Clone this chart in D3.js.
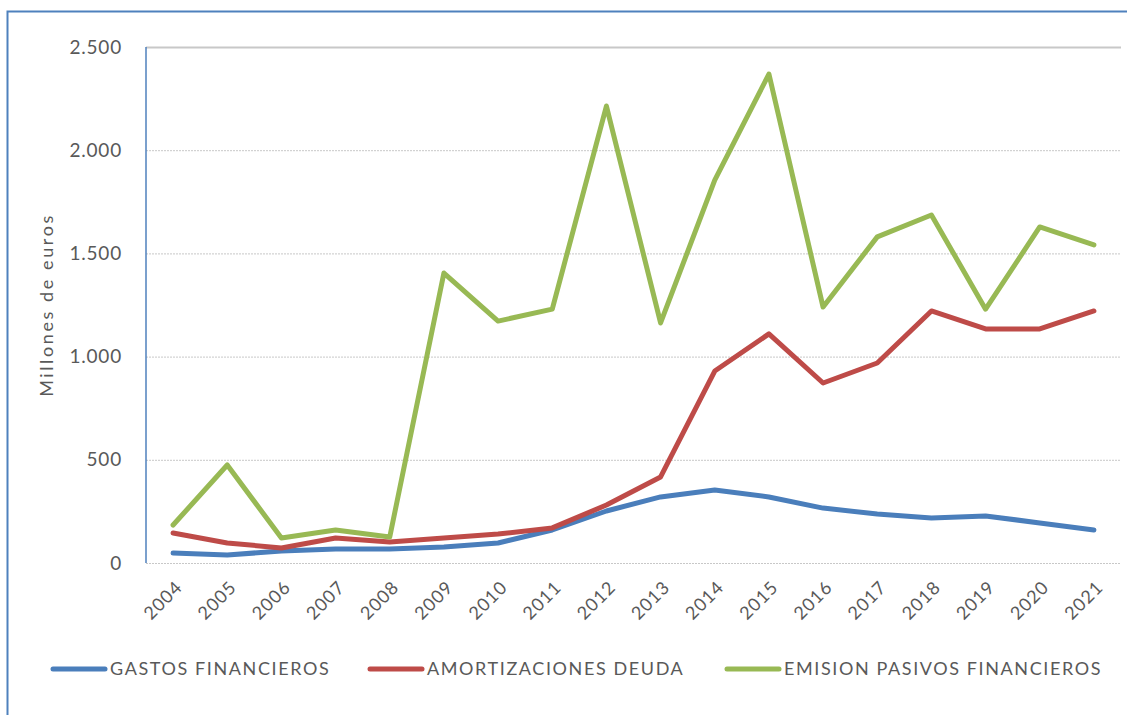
<!DOCTYPE html>
<html>
<head>
<meta charset="utf-8">
<script src="https://cdn.jsdelivr.net/npm/d3@7"></script>
<style>
  body { margin: 0; background: #fff; }
  svg { display: block; }
  text { font-family: Lato, "Open Sans", sans-serif; fill: #595959; }
</style>
</head>
<body>
<svg id="chart"></svg>
<script>
const years = ["2004", "2005", "2006", "2007", "2008", "2009", "2010", "2011", "2012",
    "2013", "2014", "2015", "2016", "2017", "2018", "2019", "2020", "2021"];
const gastos = [48, 39, 58, 68, 68, 78, 97, 160, 252, 320, 354, 320, 266, 237, 218, 228, 194, 160];
const amortizaciones = [145, 97, 73, 121, 102, 121, 140, 170, 281, 417, 930, 1110, 872, 969, 1221, 1134, 1134, 1221];
const emision = [184, 475, 121, 160, 126, 1405, 1172, 1230, 2214, 1163, 1855, 2369, 1240, 1580, 1686, 1230, 1628, 1541];
const yTicks = [0, 500, 1000, 1500, 2000, 2500];

const series = [
    {name: "GASTOS FINANCIEROS", values: gastos, color: "#4a7ebb"},
    {name: "AMORTIZACIONES DEUDA", values: amortizaciones, color: "#be4b48"},
    {name: "EMISION PASIVOS FINANCIEROS", values: emision, color: "#98b954"}
];

const width = 1127, height = 715;
const svg = d3.select("#chart").attr("width", width).attr("height", height);

// chart frame (only top and left edges are visible in the picture)
svg.append("rect")
    .attr("x", 7.5).attr("y", 11.5)
    .attr("width", 1200).attr("height", 800)
    .attr("fill", "none")
    .attr("stroke", "#4f81bd")
    .attr("stroke-width", 2);

const plot = {left: 146, right: 1121, top: 47, bottom: 563};

const x = d3.scalePoint().domain(years).range([plot.left, plot.right]).padding(0.5);
const y = d3.scaleLinear().domain([0, 2500]).range([plot.bottom, plot.top]);

// gridlines
svg.append("g")
    .selectAll("line")
    .data(yTicks).enter()
    .append("line")
    .attr("x1", plot.left).attr("x2", plot.right)
    .attr("y1", d => y(d) + 0.5).attr("y2", d => y(d) + 0.5)
    .attr("stroke", "#c8c8c8")
    .attr("stroke-dasharray", d => d === 2500 ? null : "2,1")
    .attr("stroke-width", d => d === 2500 ? 2 : 1);

// y axis line
svg.append("line")
    .attr("x1", plot.left).attr("x2", plot.left)
    .attr("y1", plot.top).attr("y2", plot.bottom)
    .attr("stroke", "#4f81bd")
    .attr("stroke-width", 1.5);

// y tick labels
const fmt = d3.formatLocale({decimal: ",", thousands: ".", grouping: [3], currency: ["", "€"]}).format(",");
svg.append("g")
    .selectAll("text")
    .data(yTicks).enter()
    .append("text")
    .attr("x", 122)
    .attr("y", d => y(d))
    .attr("dy", "0.35em")
    .attr("text-anchor", "end")
    .attr("font-size", "19px")
    .attr("letter-spacing", "0.8px")
    .text(d => fmt(d));

// y title
svg.append("text")
    .attr("transform", "translate(53,305) rotate(-90)")
    .attr("text-anchor", "middle")
    .attr("font-size", "18px")
    .attr("letter-spacing", "2.6px")
    .text("Millones de euros");

// x labels
svg.append("g")
    .selectAll("text")
    .data(years).enter()
    .append("text")
    .attr("transform", d => `translate(${x(d) + 6},${plot.bottom + 21}) rotate(-45)`)
    .attr("text-anchor", "end")
    .attr("dy", "0.35em")
    .attr("font-size", "18px")
    .attr("letter-spacing", "1px")
    .text(d => d);

// lines
const line = d3.line()
    .x((d, i) => x(years[i]))
    .y(d => y(d));
series.forEach(s => {
    svg.append("path")
        .datum(s.values)
        .attr("d", line)
        .attr("fill", "none")
        .attr("stroke", s.color)
        .attr("stroke-width", 5)
        .attr("stroke-linejoin", "round")
        .attr("stroke-linecap", "round");
});

// legend
const legendX = [53, 370, 727];
const legend = svg.append("g")
    .selectAll("g")
    .data(series).enter()
    .append("g")
    .attr("transform", (d, i) => `translate(${legendX[i]},669)`);
legend.append("line")
    .attr("x1", 0).attr("x2", 52)
    .attr("stroke", d => d.color)
    .attr("stroke-width", 5)
    .attr("stroke-linecap", "round");
legend.append("text")
    .attr("x", 57)
    .attr("dy", "0.35em")
    .attr("font-size", "18px")
    .attr("letter-spacing", "1.6px")
    .text(d => d.name);
</script>
</body>
</html>
